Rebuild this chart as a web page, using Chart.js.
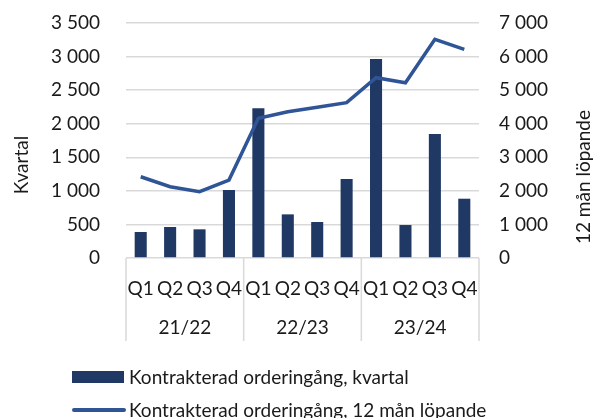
<!DOCTYPE html>
<html><head><meta charset="utf-8">
<script src="https://cdn.jsdelivr.net/npm/chart.js@4"></script>
<style>
html,body{margin:0;padding:0;background:#fff;}
#wrap{position:relative;width:603px;height:418px;overflow:hidden;font-family:Lato, sans-serif;}
#c{position:absolute;left:0;top:0;}
.legItem{position:absolute;left:0;width:603px;height:24px;}
.legSw{position:absolute;}
.legTx{position:absolute;left:129px;top:0;font-size:19px;line-height:24px;color:#1a1a1a;white-space:nowrap;}
</style></head><body>
<div id="wrap"><canvas id="c" width="603" height="418"></canvas><div id="legend"></div></div>
<script>
const quarters = ['Q1','Q2','Q3','Q4','Q1','Q2','Q3','Q4','Q1','Q2','Q3','Q4'];
const years = ['21/22','22/23','23/24'];
const kvartal = [387,462,427,1013,2229,650,536,1177,2964,491,1847,883];
const lopande = [2421,2124,1975,2323,4161,4358,4489,4626,5371,5221,6514,6216];
const seriesNames = ['Kontrakterad orderingång, kvartal','Kontrakterad orderingång, 12 mån löpande'];
const axisTitles = ['Kvartal','12 mån löpande'];
const leftMax = 3500, leftStep = 500, rightMax = 7000, rightStep = 1000;

const FONT = 'Lato';
const TXT = '#1a1a1a';
const BAR = '#1f3864';
const LINE = '#2f5597';
const fmt = v => String(v).replace(/\B(?=(\d{3})+(?!\d))/g, ' ');

const extras = {
  id: 'extras',
  afterDraw(chart) {
    const {ctx, chartArea} = chart;
    const x = chart.scales.x;
    const per = quarters.length / years.length;
    ctx.save();
    ctx.strokeStyle = '#d9d9d9';
    ctx.lineWidth = 1.5;
    for (let g = 0; g <= years.length; g++) {
      const px = x.getPixelForValue(g * per - 0.5);
      ctx.beginPath();
      ctx.moveTo(px, chartArea.bottom);
      ctx.lineTo(px, chartArea.bottom + 83);
      ctx.stroke();
    }
    ctx.fillStyle = TXT;
    ctx.font = '19px ' + FONT;
    ctx.textAlign = 'center';
    ctx.textBaseline = 'middle';
    ctx.save(); ctx.translate(22, 165); ctx.rotate(-Math.PI / 2); ctx.fillText(axisTitles[0], 0, 0); ctx.restore();
    ctx.save(); ctx.translate(584, 177); ctx.rotate(-Math.PI / 2); ctx.fillText(axisTitles[1], 0, 0); ctx.restore();
    ctx.restore();
  }
};

const tickFont = {family: FONT, size: 19};

const chart = new Chart(document.getElementById('c'), {
  data: {
    labels: quarters,
    datasets: [
      {type: 'line', label: seriesNames[1], data: lopande, yAxisID: 'y2', borderColor: LINE, backgroundColor: LINE,
       borderWidth: 3.5, pointRadius: 0, tension: 0, order: 0},
      {type: 'bar', label: seriesNames[0], data: kvartal, yAxisID: 'y', backgroundColor: BAR,
       categoryPercentage: 1, barPercentage: 0.41, order: 1}
    ]
  },
  options: {
    responsive: false,
    devicePixelRatio: 1,
    animation: false,
    layout: {padding: {top: 23, left: 0, right: 0, bottom: 0}},
    plugins: {legend: {display: false}, tooltip: {enabled: false}},
    scales: {
      x: {
        type: 'category', position: 'bottom', offset: true,
        grid: {display: false}, border: {display: false},
        ticks: {font: tickFont, color: TXT, padding: 11, maxRotation: 0, autoSkip: false},
        afterFit: s => { s.height = 50; }
      },
      x2: {
        type: 'category', position: 'bottom', offset: true, labels: years,
        grid: {display: false}, border: {display: false},
        ticks: {font: tickFont, color: TXT, padding: 0, maxRotation: 0},
        afterFit: s => { s.height = 110; }
      },
      y: {
        position: 'left', min: 0, max: leftMax,
        grid: {color: '#d9d9d9', lineWidth: 1.5, drawTicks: false}, border: {display: false},
        ticks: {stepSize: leftStep, font: tickFont, color: TXT, padding: 26, callback: v => fmt(v)},
        afterFit: s => { s.width = 126; s.paddingTop = 0; s.paddingBottom = 0; }
      },
      y2: {
        position: 'right', min: 0, max: rightMax,
        grid: {display: false, drawTicks: false}, border: {display: false},
        ticks: {stepSize: rightStep, font: tickFont, color: TXT, padding: 20, callback: v => fmt(v)},
        afterFit: s => { s.width = 124; s.paddingTop = 0; s.paddingBottom = 0; }
      }
    }
  },
  plugins: [extras]
});

// HTML legend built from the chart's datasets
const legend = document.getElementById('legend');
const legOrder = [1, 0];
const legTops = [365, 398];
legOrder.forEach((di, i) => {
  const ds = chart.data.datasets[di];
  const item = document.createElement('div');
  item.className = 'legItem';
  item.style.top = legTops[i] + 'px';
  const sw = document.createElement('div');
  sw.className = 'legSw';
  if (ds.type === 'bar') {
    Object.assign(sw.style, {left: '72px', top: '6px', width: '52px', height: '12px', background: ds.backgroundColor});
  } else {
    Object.assign(sw.style, {left: '72px', top: '10px', width: '54px', height: '3.5px', background: ds.borderColor, borderRadius: '2px'});
  }
  const tx = document.createElement('div');
  tx.className = 'legTx';
  tx.textContent = ds.label;
  item.appendChild(sw); item.appendChild(tx);
  legend.appendChild(item);
});
</script>
</body></html>
